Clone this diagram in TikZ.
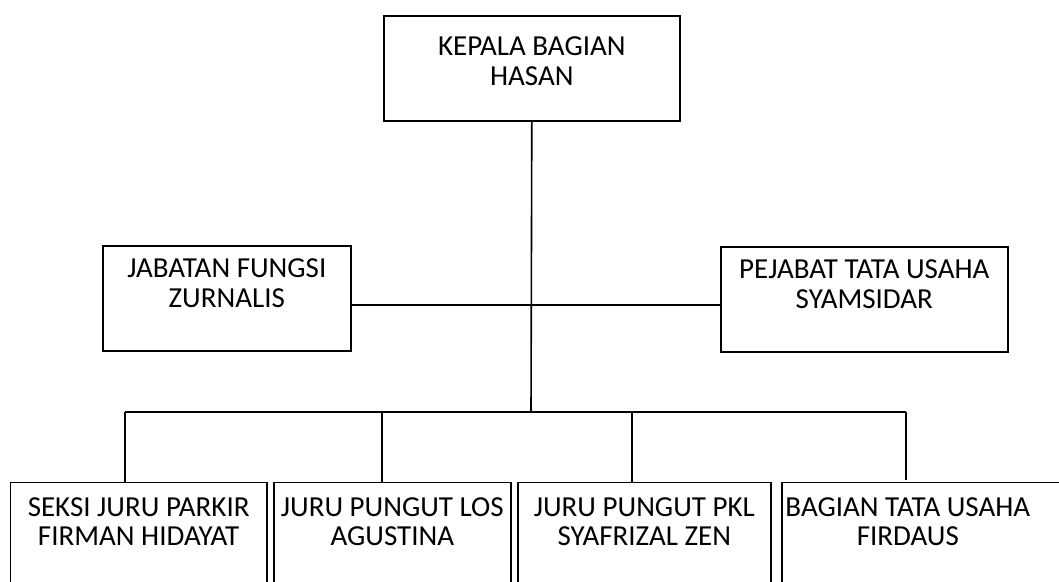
\documentclass[tikz,border=0pt]{standalone}
\usepackage{fontspec}
\setmainfont{Carlito}
\usepackage{tikz}
\usetikzlibrary{positioning, calc}

\begin{document}
\begin{tikzpicture}[
    x=1pt, y=-1pt,
    orgbox/.style={draw, line width=1.6pt, inner sep=0pt, anchor=north west,
                   font=\fontsize{29}{29.5}\selectfont},
    conn/.style={line width=1.6pt},
]
\useasboundingbox (0,0) rectangle (1059,581);
\clip (0,0) rectangle (1059,581);
% top level
\node[orgbox] (kepala) at (383,15) {\parbox[t][105pt][t]{296pt}{\centering\rule{0pt}{40pt}KEPALA BAGIAN\\HASAN}};
% staff level
\node[orgbox] (jabatan) at (102,245) {\parbox[t][105pt][t]{248pt}{\centering\rule{0pt}{32pt}JABATAN FUNGSI\\ZURNALIS}};
\node[orgbox] (pejabat) at (720,246) {\parbox[t][105pt][t]{287pt}{\centering\rule{0pt}{32pt}PEJABAT TATA USAHA\\SYAMSIDAR}};
% bottom level (cut by the page edge)
\node[orgbox] (seksi) at (9.6,481.5) {\parbox[t][160pt][t]{256.5pt}{\centering\rule{0pt}{34pt}SEKSI JURU PARKIR\\FIRMAN HIDAYAT}};
\node[orgbox] (los) at (273,481.5) {\parbox[t][160pt][t]{237pt}{\centering\rule{0pt}{34pt}JURU PUNGUT LOS\\AGUSTINA}};
\node[orgbox] (pkl) at (517,481.5) {\parbox[t][160pt][t]{253pt}{\centering\rule{0pt}{34pt}JURU PUNGUT PKL\\SYAFRIZAL ZEN}};
\node[orgbox] (bagian) at (781,481.5) {\parbox[t][160pt][t]{252pt}{\centering\rule{0pt}{34pt}BAGIAN TATA USAHA\\FIRDAUS}\hspace*{60pt}};
% connectors
\coordinate (mid) at (531,305);
\coordinate (bus) at (531,412);
\coordinate (bus1) at (125,412);
\coordinate (bus2) at (382,412);
\coordinate (bus3) at (632,412);
\coordinate (bus4) at (906,412);
\draw[conn] (kepala.south) -- (bus);
\draw[conn] (jabatan.east |- mid) -- (pejabat.west |- mid);
\draw[conn] (bus1) -- (bus4);
\draw[conn] (bus1) -- (bus1 |- seksi.north);
\draw[conn] (bus2) -- (bus2 |- los.north);
\draw[conn] (bus3) -- (bus3 |- pkl.north);
\draw[conn] (bus4) -- ($(bus4 |- bagian.north)+(0,-2)$);
\end{tikzpicture}
\end{document}
